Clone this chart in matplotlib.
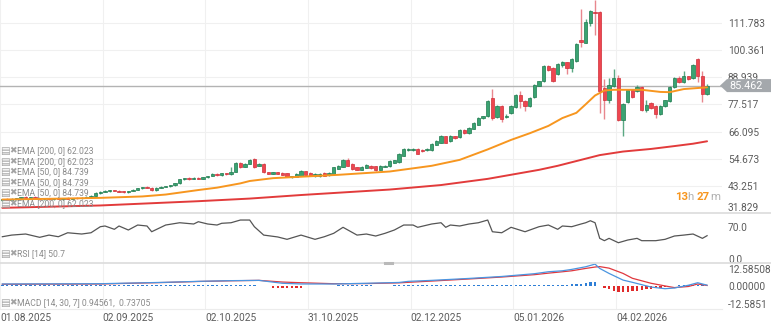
import numpy as np
import matplotlib.pyplot as plt
from matplotlib.lines import Line2D
from matplotlib.patches import Polygon
from matplotlib.transforms import IdentityTransform

plt.rcParams['font.family'] = ['Roboto', 'DejaVu Sans']
plt.rcParams['axes.unicode_minus'] = False

# --- daily candles (one per trading day) ---
opens = [37.3, 37.7, 37.4, 37.8, 38.0, 38.4, 38.2, 38.5, 37.9, 37.6,
         37.9, 37.7, 38.0, 37.8, 38.1, 37.9, 38.2, 38.0, 38.3, 38.6,
         39.1, 40.3, 40.8, 41.2, 41.4, 41.1, 40.8, 40.6, 41.1, 41.6,
         42.2, 42.7, 42.5, 41.4, 42.4, 42.9, 43.2, 43.6, 44.3, 46.0,
         46.4, 46.2, 46.6, 46.3, 46.8, 47.4, 48.3, 47.8, 48.5, 48.1,
         49.2, 53.0, 51.4, 52.6, 54.6, 51.8, 52.6, 48.9, 48.3, 48.9,
         48.7, 48.6, 46.9, 47.0, 47.5, 49.5, 48.7, 47.3, 47.3, 48.7,
         47.7, 48.4, 50.4, 51.2, 54.3, 52.6, 51.2, 50.1, 50.8, 51.8,
         51.5, 50.1, 51.2, 51.5, 52.9, 53.1, 56.0, 58.2, 58.2, 58.8,
         58.5, 58.2, 58.2, 60.6, 61.5, 64.1, 62.0, 64.1, 63.8, 66.9,
         65.5, 67.2, 69.0, 71.8, 72.5, 80.1, 72.2, 76.7, 72.2, 73.9,
         76.4, 81.5, 78.8, 77.0, 80.6, 85.4, 87.2, 93.8, 92.8, 90.4,
         94.2, 95.2, 92.8, 96.0, 104.7, 103.6, 112.0, 116.6, 116.6, 84.4,
         79.5, 85.1, 88.6, 70.8, 78.4, 83.7, 83.0, 84.8, 75.3, 78.1,
         76.7, 73.6, 76.9, 78.8, 84.8, 88.6, 86.8, 89.3, 88.6, 96.6,
         89.6, 82.0]
highs = [37.9, 38.0, 38.0, 38.2, 38.6, 38.8, 38.7, 38.8, 38.3, 38.1,
         38.2, 38.1, 38.3, 38.2, 38.4, 38.3, 38.5, 38.4, 38.8, 39.3,
         40.5, 41.0, 41.4, 41.6, 41.7, 41.4, 41.1, 41.3, 41.8, 42.4,
         42.9, 43.2, 42.9, 42.6, 43.1, 43.4, 43.8, 44.5, 46.3, 46.6,
         46.8, 46.9, 47.0, 47.0, 47.6, 48.5, 48.6, 48.7, 48.8, 51.4,
         53.2, 53.4, 52.9, 54.7, 54.9, 52.9, 52.8, 49.2, 49.1, 49.1,
         48.9, 48.8, 47.5, 48.5, 49.8, 49.7, 48.9, 48.5, 48.7, 48.9,
         48.9, 51.4, 52.1, 54.5, 54.8, 52.8, 51.4, 51.5, 52.5, 52.0,
         51.7, 52.0, 52.0, 54.1, 54.3, 57.0, 59.1, 59.0, 59.1, 59.1,
         58.7, 59.0, 61.3, 62.6, 64.7, 64.4, 64.7, 64.4, 67.0, 67.2,
         68.0, 70.0, 72.1, 72.8, 79.2, 84.0, 77.4, 77.2, 73.3, 77.4,
         81.9, 83.0, 79.2, 80.6, 86.2, 87.6, 94.2, 94.1, 93.2, 95.0,
         96.0, 95.6, 97.0, 103.5, 117.6, 113.6, 117.5, 121.3, 117.0, 88.2,
         88.6, 92.4, 90.0, 78.3, 84.2, 84.1, 85.8, 85.2, 79.2, 78.5,
         77.1, 77.4, 79.6, 85.2, 89.0, 89.6, 91.8, 89.7, 94.6, 97.0,
         91.4, 86.3]
lows = [37.0, 37.2, 37.2, 37.5, 37.8, 38.0, 37.9, 37.8, 37.4, 37.3,
        37.5, 37.4, 37.6, 37.5, 37.7, 37.6, 37.8, 37.8, 38.1, 38.4,
        38.9, 40.0, 40.5, 40.8, 40.9, 40.6, 40.4, 40.4, 40.9, 41.4,
        42.0, 42.3, 41.0, 41.2, 42.2, 42.6, 42.9, 43.4, 44.1, 45.7,
        45.9, 46.0, 46.1, 46.1, 46.6, 47.2, 47.5, 47.6, 47.9, 47.9,
        49.0, 50.9, 51.2, 52.4, 50.8, 51.5, 48.7, 48.1, 48.1, 48.2,
        47.7, 46.8, 46.5, 46.8, 47.3, 47.7, 47.3, 47.1, 47.1, 47.2,
        47.5, 48.2, 50.2, 51.0, 51.5, 50.1, 49.9, 49.9, 50.6, 50.5,
        49.5, 49.9, 51.0, 51.3, 52.7, 52.9, 55.8, 58.0, 57.9, 56.5,
        57.5, 58.0, 58.0, 60.4, 61.3, 61.2, 61.8, 63.1, 63.5, 65.2,
        65.2, 67.0, 68.7, 71.5, 72.3, 70.8, 71.8, 70.0, 71.8, 73.6,
        76.1, 76.0, 74.6, 76.6, 80.3, 85.1, 86.9, 91.8, 86.8, 90.1,
        93.5, 90.4, 91.0, 95.6, 101.9, 103.2, 110.6, 106.8, 73.9, 71.4,
        78.1, 84.7, 70.4, 64.1, 78.0, 80.2, 82.6, 74.6, 74.2, 75.6,
        71.8, 73.0, 76.5, 78.4, 84.4, 86.4, 86.4, 87.8, 88.2, 86.8,
        78.4, 81.6]
closes = [37.7, 37.4, 37.8, 38.0, 38.4, 38.2, 38.5, 37.9, 37.6, 37.9,
          37.7, 38.0, 37.8, 38.1, 37.9, 38.2, 38.0, 38.3, 38.6, 39.1,
          40.3, 40.8, 41.2, 41.4, 41.1, 40.8, 40.6, 41.1, 41.6, 42.2,
          42.7, 42.5, 41.4, 42.4, 42.9, 43.2, 43.6, 44.3, 46.0, 46.4,
          46.2, 46.6, 46.3, 46.8, 47.4, 48.3, 47.8, 48.5, 48.1, 49.0,
          52.8, 51.3, 52.6, 54.3, 51.2, 52.6, 49.0, 48.4, 48.9, 48.4,
          47.9, 47.0, 47.2, 48.3, 49.5, 47.9, 47.5, 48.3, 48.4, 47.5,
          48.7, 51.2, 51.8, 54.0, 51.8, 50.4, 50.1, 51.2, 52.2, 50.8,
          49.8, 51.8, 51.8, 53.9, 54.0, 56.7, 58.8, 58.8, 58.8, 56.8,
          57.8, 58.8, 61.0, 62.3, 64.4, 61.5, 64.4, 63.4, 66.6, 65.5,
          67.7, 69.7, 71.8, 72.5, 78.8, 71.8, 76.7, 71.4, 72.8, 77.0,
          81.5, 78.8, 76.7, 80.2, 85.8, 87.2, 93.8, 92.1, 87.2, 94.6,
          95.2, 92.8, 96.6, 103.0, 103.9, 112.4, 117.0, 115.9, 83.0, 79.5,
          85.8, 88.6, 70.8, 77.8, 83.7, 80.6, 84.8, 75.0, 77.4, 76.0,
          73.6, 77.0, 79.2, 84.8, 88.6, 86.8, 89.6, 88.2, 94.2, 89.3,
          82.0, 85.462]

# --- indicator lines, read at sample candles ---
ema50_idx = [0, 10, 21, 30, 35, 42, 46, 51, 53, 58, 64, 72, 83, 92, 98, 104,
             109, 113, 117, 120, 123, 125, 127, 129, 131, 137, 141, 143, 146, 151]
ema50_val = [37.5, 37.8, 38.2, 38.8, 39.6, 41.5, 42.5, 44.3, 45.3, 46.5, 47.1,
             47.9, 49.3, 51.7, 54.2, 58.6, 62.6, 65.4, 68.5, 71.8, 74.0, 77.6,
             81.3, 83.4, 83.7, 83.7, 82.8, 82.7, 84.0, 84.739]
ema200_idx = [0, 21, 42, 53, 64, 83, 94, 104, 115, 119, 124, 128, 133, 139, 144, 148, 151]
ema200_val = [34.0, 35.0, 36.8, 37.9, 39.4, 41.7, 43.6, 46.2, 50.0, 51.7, 54.2,
              56.2, 57.7, 58.8, 60.0, 61.0, 62.023]

rsi_idx = [0, 2, 5, 8, 10, 12, 14, 17, 19, 21, 22, 24, 25, 27, 29, 31, 32, 35,
           38, 41, 42, 44, 46, 47, 49, 51, 53, 54, 56, 59, 61, 64, 67, 69, 71,
           73, 76, 78, 80, 82, 84, 86, 88, 89, 92, 94, 95, 96, 98, 100, 102,
           104, 105, 107, 109, 112, 115, 117, 119, 120, 122, 124, 125, 126,
           127, 128, 129, 130, 132, 134, 136, 137, 140, 142, 144, 146, 148,
           150, 151]
rsi_val = [48.5, 52.0, 54.3, 47.2, 52.0, 48.5, 57.0, 54.3, 57.0, 70.0, 71.5,
           64.4, 71.5, 62.9, 73.6, 71.5, 59.2, 73.6, 78.5, 75.8, 80.7, 75.8,
           73.6, 77.3, 78.5, 84.3, 84.3, 70.0, 52.0, 48.0, 42.9, 52.0, 42.9,
           48.5, 55.8, 68.7, 52.0, 54.3, 50.0, 55.8, 62.9, 73.6, 73.6, 68.7,
           75.8, 78.5, 68.7, 73.6, 71.5, 75.8, 78.5, 84.3, 59.2, 57.0, 68.7,
           59.2, 70.0, 73.6, 64.4, 71.5, 70.0, 75.8, 78.5, 82.8, 78.5, 45.0,
           40.0, 45.0, 35.6, 41.4, 45.0, 40.0, 40.0, 42.9, 50.0, 52.0, 54.3,
           45.0, 50.7]

macd_idx = [0, 21, 35, 42, 49, 55, 60, 64, 71, 78, 85, 87, 92, 100, 107, 114,
            117, 120, 122, 125, 127, 128, 130, 133, 135, 139, 142, 144, 147, 149, 151]
macd_val = [1.8, 2.0, 3.0, 3.7, 4.2, 4.4, 2.3, 1.8, 1.8, 2.3, 2.9, 3.7, 4.4,
            5.8, 7.2, 9.2, 10.6, 11.3, 12.3, 14.2, 16.1, 13.0, 9.4, 4.6, 3.0,
            -0.4, -1.6, -1.1, 0.9, 2.7, 0.94561]
signal_val = [1.6, 1.8, 2.9, 3.6, 4.1, 4.4, 3.2, 2.7, 2.0, 2.1, 2.6, 3.0, 3.9,
              5.4, 6.8, 8.5, 9.6, 10.6, 11.3, 13.0, 14.0, 14.3, 13.2, 9.4, 5.9,
              2.3, 0.4, -0.8, 0.0, 1.8, 0.73705]
hist_val = [0.9, 0.8, 0.9, 1.0, 0.9, 0.8, 0.9, 0.9, 0.8, 0.9,
            0.9, 1.0, 0.9, 0.8, 0.9, 0.9, 1.0, 0.9, 0.9, 0.8,
            0.9, 1.0, 0.9, 0.9, 0.8, 0.9, 1.0, 0.9, 0.9, 0.8,
            0.9, 0.9, 1.0, 0.9, 0.8, 0.9, 0.9, 1.0, 0.9, 0.9,
            0.8, 0.9, 1.0, 0.9, 0.9, 0.8, 0.9, 0.9, 1.0, 0.9,
            0.9, 0.8, 0.9, 0.9, 0.8, 0.7, 0.0, 0.0,
            -0.8, -0.9, -0.9, -1.0, -0.9, -0.9, -0.8,
            0.0, 0.0, 0.0, 0.0, 0.0, 0.0, 0.0,
            0.8, 0.9, 0.9, 0.8, 0.9, 0.9, 0.8, 0.8,
            0.0, 0.0, 0.0, 0.0,
            0.8, 0.9, 0.9, 0.8, 0.9, 0.9, 1.0, 0.9, 0.9, 1.0,
            0.9, 1.0, 1.0, 0.9, 1.0, 1.0, 1.1, 1.0, 1.0, 1.1,
            1.1, 1.0, 1.1, 1.2, 1.1, 1.2, 1.2, 1.1, 1.2, 1.3, 1.2,
            1.2, 1.3, 1.2, 1.3, 1.4, 1.3, 1.4, 1.5, 1.6, 1.8, 2.4, 3.0, 3.1,
            0.0,
            -1.2, -2.0, -3.0, -3.7, -3.9, -3.8, -3.5, -3.0, -2.5, -2.0, -1.6, -1.2, -0.9,
            -0.6, 0.0,
            0.6, 0.8, 0.9, 1.0, 1.0, 0.9, 0.8, 0.6]

price_ticks = [31.829, 43.251, 54.673, 66.095, 77.517, 88.939, 100.361, 111.783]
rsi_ticks = [0.0, 70.0]
rsi_labels = ["0.0", "70.0"]
macd_ticks = [-12.5851, 0.0, 12.58508]
macd_labels = ["-12.5851", "0.00000", "12.58508"]
date_idx = [0, 22, 44, 66, 88, 110, 132]
date_labels = ["01.08.2025", "02.09.2025", "02.10.2025", "31.10.2025",
               "02.12.2025", "05.01.2026", "04.02.2026"]

legend_lines = ["EMA [200, 0] 62.023", "EMA [200, 0] 62.023", "EMA [50, 0] 84.739",
                "EMA [50, 0] 84.739", "EMA [50, 0] 84.739", "EMA [200, 0] 62.023"]
rsi_legend = "RSI [14] 50.7"
macd_legend = "MACD [14, 30, 7] 0.94561,  0.73705"

# --- styles ---
W, H = 771, 325
GREEN, GREEN_EDGE, GREEN_WICK = "#3aa372", "#1f7a4f", "#5aa883"
RED, RED_EDGE, RED_WICK = "#ee4650", "#cf2f38", "#e8878e"
ORANGE = "#f7961f"
EMA_RED = "#e23b3b"
GRID = "#f0f0f0"
LABEL = "#5c5c5c"
NOTE = "#8a8a8a"

fig = plt.figure(figsize=(W / 100, H / 100), dpi=100)
fig.patch.set_facecolor("white")

right = 722 / W
ax = fig.add_axes([0, (H - 213) / H, right, 213 / H])
ax_rsi = fig.add_axes([0, (H - 263) / H, right, 50 / H], sharex=ax)
ax_macd = fig.add_axes([0, (H - 309) / H, right, 46 / H], sharex=ax)

idx = np.arange(len(closes))
o = np.array(opens)
c = np.array(closes)
up = c >= o

# candles
ax.vlines(idx[up], np.array(lows)[up], np.array(highs)[up], colors=GREEN_WICK, lw=1, zorder=2)
ax.vlines(idx[~up], np.array(lows)[~up], np.array(highs)[~up], colors=RED_WICK, lw=1, zorder=2)
body_low = np.minimum(o, c)
body_h = np.maximum(np.abs(c - o), 0.3)
ax.bar(idx[up], body_h[up], bottom=body_low[up], width=0.68,
       color=GREEN, edgecolor=GREEN_EDGE, linewidth=0.5, zorder=3)
ax.bar(idx[~up], body_h[~up], bottom=body_low[~up], width=0.68,
       color=RED, edgecolor=RED_EDGE, linewidth=0.5, zorder=3)

ax.plot(ema200_idx, ema200_val, color=EMA_RED, lw=1.4, zorder=4, solid_capstyle="round")
ax.plot(ema50_idx, ema50_val, color=ORANGE, lw=1.4, zorder=4, solid_capstyle="round")
ax.axhline(closes[-1], color="#b3b3b3", lw=1, zorder=1)

ax.set_ylim(31.9, 121.5)
ax.set_xlim(-0.5, 154.2)
ax.set_yticks(price_ticks)
ax.set_yticklabels([f"{v:.3f}" for v in price_ticks])

# RSI
ax_rsi.plot(rsi_idx, rsi_val, color="#555555", lw=0.9)
ax_rsi.set_ylim(-7.9, 99.4)
ax_rsi.set_yticks(rsi_ticks)
ax_rsi.set_yticklabels(rsi_labels)

# MACD
hist = np.array(hist_val)
ax_macd.bar(idx[hist > 0], hist[hist > 0], width=0.5, color="#2f7fd6", zorder=2)
ax_macd.bar(idx[hist < 0], hist[hist < 0], width=0.5, color="#e02a2a", zorder=2)
ax_macd.plot(macd_idx, signal_val, color="#e0383e", lw=0.9, zorder=3)
ax_macd.plot(macd_idx, macd_val, color="#4b95e0", lw=0.9, zorder=3)
ax_macd.set_ylim(-16.2, 16.9)
ax_macd.set_yticks(macd_ticks)
ax_macd.set_yticklabels(macd_labels)

tick_pos = [i - 0.5 for i in date_idx]
for a in (ax, ax_rsi, ax_macd):
    a.set_facecolor("white")
    for s in a.spines.values():
        s.set_visible(False)
    a.yaxis.tick_right()
    a.tick_params(axis="y", length=0, pad=4.3, labelsize=7.3, labelcolor=LABEL)
    a.tick_params(axis="x", length=0)
    a.set_xticks(tick_pos)
    a.grid(axis="x", color=GRID, lw=0.8, zorder=0)
    a.set_axisbelow(True)
ax.grid(axis="y", color=GRID, lw=0.8, zorder=0)
ax.tick_params(axis="x", labelbottom=False)
ax_rsi.tick_params(axis="x", labelbottom=False)
ax_macd.set_xticklabels(date_labels, ha="left")
ax_macd.tick_params(axis="x", labelsize=7.3, labelcolor=LABEL, pad=2.7)
ax_macd.spines["bottom"].set_visible(True)
ax_macd.spines["bottom"].set_color("#ececec")

# keep the lowest labels inside their panes
ax.get_yticklabels()[0].set_va("bottom")

# panel separators and handle
for yy in (213, 263):
    fig.add_artist(Line2D([0, 1], [(H - yy) / H] * 2, color="#dcdcdc", lw=1.2,
                          transform=fig.transFigure))
fig.add_artist(Line2D([385 / W, 392 / W], [(H - 263) / H] * 2, color="#b9b9b9",
                      lw=2.2, transform=fig.transFigure))

# indicator captions
def caption(y_px, text):
    y = (H - y_px) / H
    fig.text(0.5 / W, y, "\u25a4", fontsize=7.5, color="#a3a3a3", va="center",
             family=["DejaVu Sans"])
    fig.text(9 / W, y, "\u2716", fontsize=6.5, color="#a3a3a3", va="center",
             family=["DejaVu Sans"])
    fig.text(17 / W, y, text, fontsize=6.2, color=NOTE, va="center")

for k, t in enumerate(legend_lines):
    caption(151 + 10.5 * k, t)
caption(254, rsi_legend)
caption(303, macd_legend)

# current price tag
fig.canvas.draw()
renderer = fig.canvas.get_renderer()
yc = ax.transData.transform((0, closes[-1]))[1]
tip = 720
tag = Polygon([(tip, yc), (tip + 7, yc + 6.5), (W, yc + 6.5), (W, yc - 6.5), (tip + 7, yc - 6.5)],
              closed=True, fc="#a4a8ac", ec="none", transform=IdentityTransform(), zorder=10)
fig.add_artist(tag)
fig.text(729, yc, f"{closes[-1]:.3f}", transform=IdentityTransform(), color="white",
         fontsize=7.8, va="center", ha="left", zorder=11)

# countdown to candle close
pieces = [("13", ORANGE, "bold"), ("h", "#b0b0b0", "normal"), (" ", "#b0b0b0", "normal"),
          ("27", ORANGE, "bold"), ("m", "#b0b0b0", "normal")]
x = 720
y_cd = H - 197
for s, col, wt in reversed(pieces):
    t = fig.text(x, y_cd, s, transform=IdentityTransform(), color=col, fontsize=8.2,
                 fontweight=wt, ha="right", va="center")
    bb = t.get_window_extent(renderer)
    x = bb.x0 if s.strip() else x - 3

fig.savefig("out.png", dpi=100)
